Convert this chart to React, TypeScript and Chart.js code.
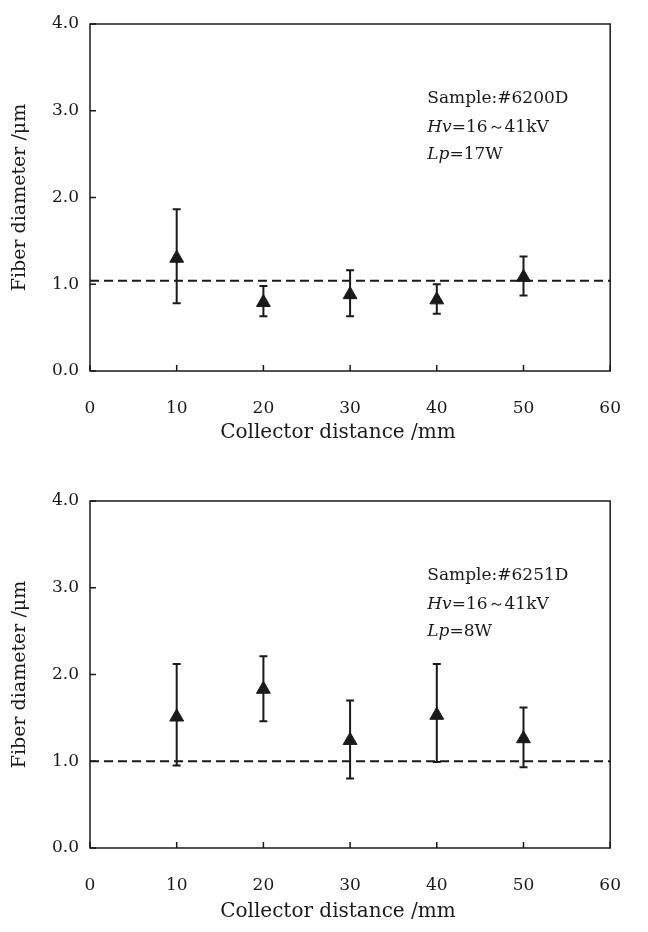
import React, { useEffect, useRef } from "react";
import { Chart, registerables } from "chart.js";

Chart.register(...registerables);

// ---------- data ----------
const xTickValues = [0, 10, 20, 30, 40, 50, 60];
const yTickValues = [0, 1, 2, 3, 4];
const distances = [10, 20, 30, 40, 50];

const topMean = [1.3, 0.79, 0.88, 0.82, 1.08];
const topLow = [0.78, 0.63, 0.63, 0.66, 0.87];
const topHigh = [1.865, 0.98, 1.16, 1.0, 1.32];
const topRef = 1.04;
const topNotes: [string, boolean][][] = [
  [["Sample:#6200D", false]],
  [["Hv", true], ["=16～41kV", false]],
  [["Lp", true], ["=17W", false]],
];

const botMean = [1.51, 1.83, 1.24, 1.53, 1.26];
const botLow = [0.95, 1.46, 0.8, 0.99, 0.93];
const botHigh = [2.12, 2.21, 1.7, 2.12, 1.62];
const botRef = 1.0;
const botNotes: [string, boolean][][] = [
  [["Sample:#6251D", false]],
  [["Hv", true], ["=16～41kV", false]],
  [["Lp", true], ["=8W", false]],
];

const xTitle = "Collector distance /mm";
const yTitle = "Fiber diameter /μm";

// ---------- styling ----------
const INK = "#1a1a1a";
const FONT = "'DejaVu Serif', 'Liberation Serif', serif";
const CANVAS_W = 648;
const CANVAS_H = 466;

type Cfg = {
  mean: number[];
  low: number[];
  high: number[];
  ref: number;
  notes: [string, boolean][][];
  padTop: number;
  plotBottom: number;
  titleGap: number;
};

function makeChart(canvas: HTMLCanvasElement, cfg: Cfg) {
  const framePlugin = {
    id: "frameTicks",
    afterDatasetsDraw(chart: any) {
      const { ctx, chartArea: a, scales } = chart;
      const x = scales.x;
      const y = scales.y;
      ctx.save();
      ctx.strokeStyle = INK;
      ctx.lineWidth = 1.5;
      ctx.strokeRect(a.left, a.top, a.right - a.left, a.bottom - a.top);
      ctx.beginPath();
      xTickValues.forEach((v) => {
        const px = x.getPixelForValue(v);
        ctx.moveTo(px, a.bottom);
        ctx.lineTo(px, a.bottom - 6);
      });
      yTickValues.forEach((v) => {
        const py = y.getPixelForValue(v);
        ctx.moveTo(a.left, py);
        ctx.lineTo(a.left + 6, py);
      });
      ctx.stroke();

      // annotation
      ctx.fillStyle = INK;
      ctx.textBaseline = "middle";
      ctx.textAlign = "left";
      const startX = x.getPixelForValue(38.9);
      const lineY = [3.14, 2.81, 2.49];
      cfg.notes.forEach((segs, i) => {
        let cx = startX;
        const cy = y.getPixelForValue(lineY[i]);
        segs.forEach(([txt, it]) => {
          ctx.font = `${it ? "italic " : ""}17px ${FONT}`;
          ctx.fillText(txt, cx, cy);
          cx += ctx.measureText(txt).width;
        });
      });

      // x-axis title
      ctx.font = `20px ${FONT}`;
      ctx.textAlign = "center";
      ctx.fillText(xTitle, x.getPixelForValue(28.6), a.bottom + cfg.titleGap);
      ctx.restore();
    },
    beforeDatasetsDraw(chart: any) {
      const { ctx, scales } = chart;
      const x = scales.x;
      const y = scales.y;
      ctx.save();
      ctx.strokeStyle = INK;
      ctx.lineWidth = 2;
      distances.forEach((d, i) => {
        const px = x.getPixelForValue(d);
        const pl = y.getPixelForValue(cfg.low[i]);
        const ph = y.getPixelForValue(cfg.high[i]);
        ctx.beginPath();
        ctx.moveTo(px, pl);
        ctx.lineTo(px, ph);
        ctx.moveTo(px - 4, pl);
        ctx.lineTo(px + 4, pl);
        ctx.moveTo(px - 4, ph);
        ctx.lineTo(px + 4, ph);
        ctx.stroke();
      });
      ctx.restore();
    },
  };

  const tickFont = { family: FONT, size: 17 };
  const titleFont = { family: FONT, size: 19 };

  return new Chart(canvas, {
    type: "scatter",
    data: {
      datasets: [
        {
          type: "line",
          data: [
            { x: xTickValues[0], y: cfg.ref },
            { x: xTickValues[xTickValues.length - 1], y: cfg.ref },
          ],
          borderColor: INK,
          borderWidth: 2,
          borderDash: [9, 5],
          pointRadius: 0,
          fill: false,
        } as any,
        {
          data: distances.map((d, i) => ({ x: d, y: cfg.mean[i] })),
          pointStyle: "triangle",
          pointRadius: 8,
          pointHoverRadius: 8,
          backgroundColor: INK,
          borderColor: INK,
          borderWidth: 1,
        },
      ],
    },
    options: {
      responsive: false,
      animation: false,
      events: [],
      layout: { padding: { top: cfg.padTop, right: 29, left: 9, bottom: 0 } },
      plugins: { legend: { display: false }, tooltip: { enabled: false } },
      scales: {
        x: {
          type: "linear",
          min: 0,
          max: 60,
          afterBuildTicks: (s: any) => {
            s.ticks = xTickValues.map((v) => ({ value: v }));
          },
          ticks: { color: INK, font: tickFont, padding: 27, maxRotation: 0 },
          grid: { display: false, drawTicks: false },
          border: { display: false },
          title: { display: false },
          afterFit: (s: any) => {
            s.height = CANVAS_H - cfg.plotBottom;
          },
        },
        y: {
          type: "linear",
          min: 0,
          max: 4,
          afterBuildTicks: (s: any) => {
            s.ticks = yTickValues.map((v) => ({ value: v }));
          },
          ticks: {
            color: INK,
            font: tickFont,
            padding: 11,
            callback: (v: any) => Number(v).toFixed(1),
          },
          grid: { display: false, drawTicks: false },
          border: { display: false },
          title: {
            display: true,
            text: yTitle,
            color: INK,
            font: titleFont,
            padding: { top: 0, bottom: 0 },
          },
          afterFit: (s: any) => {
            s.width = 90 - 9;
          },
        },
      },
    },
    plugins: [framePlugin],
  } as any);
}

function Panel({ cfg }: { cfg: Cfg }) {
  const ref = useRef<HTMLCanvasElement>(null);
  useEffect(() => {
    if (!ref.current) return;
    const c = makeChart(ref.current, cfg);
    return () => c.destroy();
  }, []);
  return (
    <canvas
      ref={ref}
      width={CANVAS_W}
      height={CANVAS_H}
      style={{ display: "block", width: CANVAS_W, height: CANVAS_H }}
    />
  );
}

export default function App() {
  useEffect(() => {
    document.body.style.margin = "0";
    document.body.style.background = "#fff";
  }, []);
  const top: Cfg = {
    mean: topMean,
    low: topLow,
    high: topHigh,
    ref: topRef,
    notes: topNotes,
    padTop: 24,
    plotBottom: 371,
    titleGap: 62,
  };
  const bottom: Cfg = {
    mean: botMean,
    low: botLow,
    high: botHigh,
    ref: botRef,
    notes: botNotes,
    padTop: 35,
    plotBottom: 382,
    titleGap: 64,
  };
  return (
    <div style={{ position: "absolute", left: 0, top: 0, width: CANVAS_W, height: 932, background: "#fff" }}>
      <Panel cfg={top} />
      <Panel cfg={bottom} />
    </div>
  );
}
